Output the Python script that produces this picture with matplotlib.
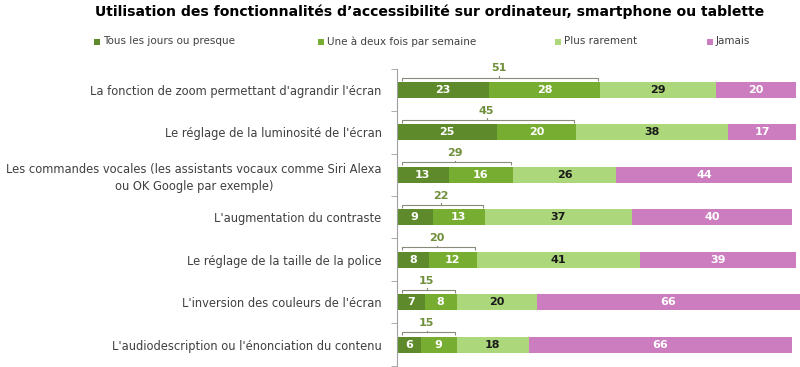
import numpy as np
from matplotlib import pyplot as plt
from matplotlib.patches import Rectangle

# data
categories = [
    "La fonction de zoom permettant d'agrandir l'écran",
    "Le réglage de la luminosité de l'écran",
    "Les commandes vocales (les assistants vocaux comme Siri Alexa\nou OK Google par exemple)",
    "L'augmentation du contraste",
    "Le réglage de la taille de la police",
    "L'inversion des couleurs de l'écran",
    "L'audiodescription ou l'énonciation du contenu",
]
series_names = ["Tous les jours ou presque", "Une à deux fois par semaine",
                "Plus rarement", "Jamais"]
daily = [23, 25, 13, 9, 8, 7, 6]
weekly = [28, 20, 16, 13, 12, 8, 9]
rarely = [29, 38, 26, 37, 41, 20, 18]
never = [20, 17, 44, 40, 39, 66, 66]
totals = [51, 45, 29, 22, 20, 15, 15]

colors = ["#5e8a2b", "#77ad30", "#acd77b", "#cc7dbf"]
text_colors = ["white", "white", "#1a1a1a", "white"]
bracket_color = "#6f8f3a"
gray = "#404040"

fig = plt.figure(figsize=(8, 3.67), dpi=100)
ax = fig.add_axes([0.496, 0.003, 0.504, 0.81])

y = np.arange(len(categories))
left = np.zeros(len(categories))
for vals, col, tcol in zip([daily, weekly, rarely, never], colors, text_colors):
    vals = np.array(vals, dtype=float)
    ax.barh(y, vals, left=left, height=0.38, color=col, edgecolor="none")
    for yi, v, l in zip(y, vals, left):
        ax.text(l + v / 2, yi, f"{int(v)}", ha="center", va="center",
                color=tcol, fontsize=8, fontweight="bold")
    left += vals

# brackets for "at least weekly"
for yi, t in zip(y, totals):
    by = yi - 0.29
    x0, x1 = 1.2, t - 0.5
    ax.plot([x0, x0, x1, x1], [by + 0.07, by, by, by + 0.07],
            color="#8a8a7a", lw=0.8, solid_capstyle="butt")
    ax.plot([t / 2, t / 2], [by, by - 0.04], color="#8a8a7a", lw=0.8)
    ax.text(t / 2, by - 0.1, f"{t}", ha="center", va="bottom",
            color=bracket_color, fontsize=8, fontweight="bold")

ax.set_xlim(0, 101)
ax.set_ylim(len(categories) - 0.5, -0.5)
ax.set_yticks(y)
ax.set_yticklabels(categories, fontsize=8.3, color=gray, multialignment="center",
                   linespacing=1.35)
ax.set_yticks(np.arange(len(categories) + 1) - 0.5, minor=True)
ax.tick_params(axis="y", which="major", length=0, pad=11)
ax.tick_params(axis="y", which="minor", length=4, color="#a0a0a0", direction="out")
ax.set_xticks([])
for s in ["top", "right", "bottom"]:
    ax.spines[s].set_visible(False)
ax.spines["left"].set_color("#a0a0a0")
ax.spines["left"].set_linewidth(0.8)

fig.text(0.537, 0.967,
         "Utilisation des fonctionnalités d\u2019accessibilité sur ordinateur, smartphone ou tablette",
         ha="center", va="center", fontsize=10.1, fontweight="bold", color="black")

# legend
leg_x = [0.118, 0.398, 0.694, 0.884]
for lx, name, col in zip(leg_x, series_names, colors):
    fig.patches.append(Rectangle((lx, 0.878), 0.0075, 0.0165, transform=fig.transFigure,
                                 facecolor=col, edgecolor="none"))
    fig.text(lx + 0.011, 0.887, name, ha="left", va="center", fontsize=7.5, color=gray)

fig.savefig("out.png", dpi=100)
